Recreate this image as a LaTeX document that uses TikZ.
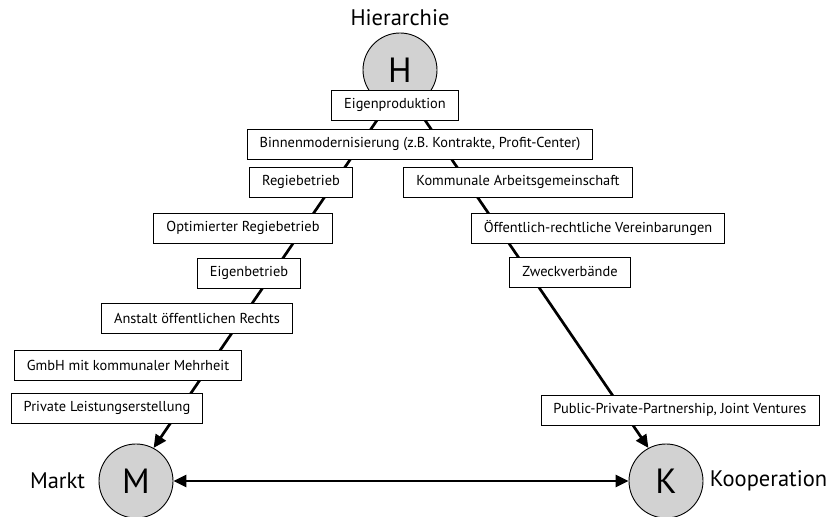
\documentclass[tikz,border=0pt]{standalone}
\usepackage{fontspec}
\setmainfont{PT Sans}
\usetikzlibrary{arrows.meta,positioning,backgrounds}
\begin{document}
\begin{tikzpicture}[x=1pt,y=1pt,
	form/.style={draw=black, line width=0.9pt, fill=white, minimum height=30pt, inner xsep=12.5pt, font=\fontsize{14.4}{17}\selectfont},
	pole/.style={circle, draw=black, line width=0.9pt, fill=gray!35, minimum size=74pt, inner sep=0pt, font=\fontsize{35}{40}\selectfont},
	polename/.style={font=\fontsize{22.5}{26}\selectfont},
	link/.style={line width=2.7pt, -{Triangle[length=13pt,width=12pt]}}]
	\useasboundingbox (0,0) rectangle (836,517);
	% Pole
	\node[pole] (H) at (400,447) {H};
	\node[pole] (M) at (136,36) {M};
	\node[pole] (K) at (666,36) {K};
	\node[polename] (hier) at (400,499) {Hierarchie};
	\node[polename, left=10pt of M] (markt) {Markt};
	\node[polename, right=3pt of K] (koop) {Kooperation};
	\coordinate (apex) at (401,432);
	% Linien
	\begin{scope}[on background layer]
		\draw[link] (apex) -- (M.62);
		\draw[link] (apex) -- (K.118);
		\draw[link, {Triangle[length=13pt,width=12pt]}-{Triangle[length=13pt,width=12pt]}] (M.east) -- (K.west);
	\end{scope}
	% Formen
	\node[form] (eigenprod) at (395,412) {Eigenproduktion};
	\node[form] (binnen) at (420,373) {Binnenmodernisierung (z.B. Kontrakte, Profit-Center)};
	\node[form] (regie) at (301,335) {Regiebetrieb};
	\node[form] (optregie) at (243,289) {Optimierter Regiebetrieb};
	\node[form] (eigenbetr) at (249,244) {Eigenbetrieb};
	\node[form] (anstalt) at (197,199) {Anstalt öffentlichen Rechts};
	\node[form] (gmbh) at (128,152) {GmbH mit kommunaler Mehrheit};
	\node[form] (privat) at (107,109) {Private Leistungserstellung};
	\node[form] (kag) at (518,335) {Kommunale Arbeitsgemeinschaft};
	\node[form] (oeffrecht) at (598,289) {Öffentlich-rechtliche Vereinbarungen};
	\node[form] (zweck) at (570,245) {Zweckverbände};
	\node[form] (ppp) at (680,107) {Public-Private-Partnership, Joint Ventures};
\end{tikzpicture}
\end{document}
